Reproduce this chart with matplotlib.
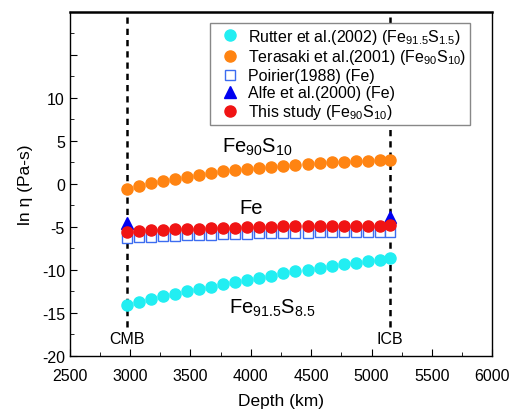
import matplotlib
matplotlib.use("Agg")
import matplotlib.pyplot as plt
from matplotlib.ticker import MultipleLocator

plt.rcParams["font.family"] = ["Liberation Sans", "DejaVu Sans"]
plt.rcParams["mathtext.fontset"] = "custom"
plt.rcParams["mathtext.rm"] = "Liberation Sans"
plt.rcParams["mathtext.it"] = "Liberation Sans"

# depth of the outer core samples [km]
depth = [2970, 3070, 3170, 3270, 3370, 3470, 3570, 3670, 3770, 3870, 3970, 4070,
         4170, 4270, 4370, 4470, 4570, 4670, 4770, 4870, 4970, 5070, 5150]

rutter = [-14.07, -13.69, -13.37, -13.06, -12.79, -12.48, -12.21, -11.94, -11.66,
          -11.40, -11.13, -10.90, -10.66, -10.38, -10.15, -9.97, -9.77, -9.53,
          -9.34, -9.15, -8.99, -8.80, -8.64]
terasaki = [-0.6, -0.3, 0.05, 0.35, 0.6, 0.85, 1.05, 1.25, 1.45, 1.6, 1.75, 1.9,
            2.0, 2.1, 2.2, 2.3, 2.4, 2.5, 2.55, 2.6, 2.7, 2.75, 2.8]
poirier = [-6.3, -6.2, -6.15, -6.1, -6.05, -6.0, -5.95, -5.9, -5.85, -5.85, -5.8,
           -5.75, -5.75, -5.7, -5.7, -5.7, -5.65, -5.65, -5.65, -5.6, -5.6, -5.6, -5.6]
this_study = [-5.55, -5.45, -5.4, -5.35, -5.3, -5.25, -5.2, -5.15, -5.1, -5.1, -5.05,
              -5.0, -5.0, -4.95, -4.95, -4.9, -4.9, -4.9, -4.85, -4.85, -4.85, -4.85, -4.8]

alfe_depth = [2970, 5150]
alfe = [-4.5, -3.9]

boundary_depth = [2970, 5150]
boundary_name = ["CMB", "ICB"]

fig = plt.figure(figsize=(5.17, 4.14), dpi=100)
ax = fig.add_axes([0.135, 0.138, 0.817, 0.831])

# CMB / ICB boundaries
for x, name in zip(boundary_depth, boundary_name):
    ax.plot([x, x], [-16.6, 20], color="black", lw=1.8, ls=(0, (2.5, 2)))
    ax.text(x, -18, name, ha="center", va="center", fontsize=11.5)

ax.plot(depth, rutter, "o", color="#22EEF2", ms=8, ls="none",
        label="Rutter et al.(2002) (Fe$_{91.5}$S$_{1.5}$)")
ax.plot(depth, terasaki, "o", color="#FF8412", ms=8, ls="none",
        label="Terasaki et al.(2001) (Fe$_{90}$S$_{10}$)")
ax.plot(depth, poirier, "s", mfc="white", mec="#3C6CF0", mew=1.0, ms=7, ls="none",
        label="Poirier(1988) (Fe)")
ax.plot(alfe_depth, alfe, "^", color="#0000F0", ms=8, ls="none",
        label="Alfe et al.(2000) (Fe)")
ax.plot(depth, this_study, "o", color="#F01414", ms=8, ls="none",
        label="This study (Fe$_{90}$S$_{10}$)")

ax.text(4050, 4.4, "Fe$_{90}$S$_{10}$", ha="center", va="center", fontsize=14.5)
ax.text(4000, -2.8, "Fe", ha="center", va="center", fontsize=14.5)
ax.text(4180, -14.4, "Fe$_{91.5}$S$_{8.5}$", ha="center", va="center", fontsize=14.5)

ax.set_xlim(2500, 6000)
ax.set_ylim(-20, 20)
ax.set_xticks([2500, 3000, 3500, 4000, 4500, 5000, 5500, 6000])
ax.set_yticks([-20, -15, -10, -5, 0, 5, 10, 15])
ax.set_yticklabels(["-20", "-15", "-10", "-5", "0", "5", "10", ""])
ax.xaxis.set_minor_locator(MultipleLocator(250))
ax.yaxis.set_minor_locator(MultipleLocator(2.5))
ax.tick_params(which="both", direction="in", labelsize=11.5)
ax.tick_params(axis="x", pad=9)
ax.tick_params(which="major", length=5)
ax.tick_params(which="minor", length=3)
ax.set_xlabel("Depth (km)", fontsize=12.5, labelpad=7)
ax.set_ylabel("ln η (Pa-s)", fontsize=12.5, labelpad=6)
for s in ax.spines.values():
    s.set_linewidth(1.0)
ax.spines["top"].set_linewidth(1.8)

leg = ax.legend(loc="upper right", bbox_to_anchor=(0.967, 0.992), fontsize=11.5,
                handlelength=1.9, handletextpad=0.2, borderpad=0.25,
                labelspacing=0.12, fancybox=False, framealpha=1)
leg.get_frame().set_edgecolor("#888888")

fig.savefig("out.png", dpi=100)
